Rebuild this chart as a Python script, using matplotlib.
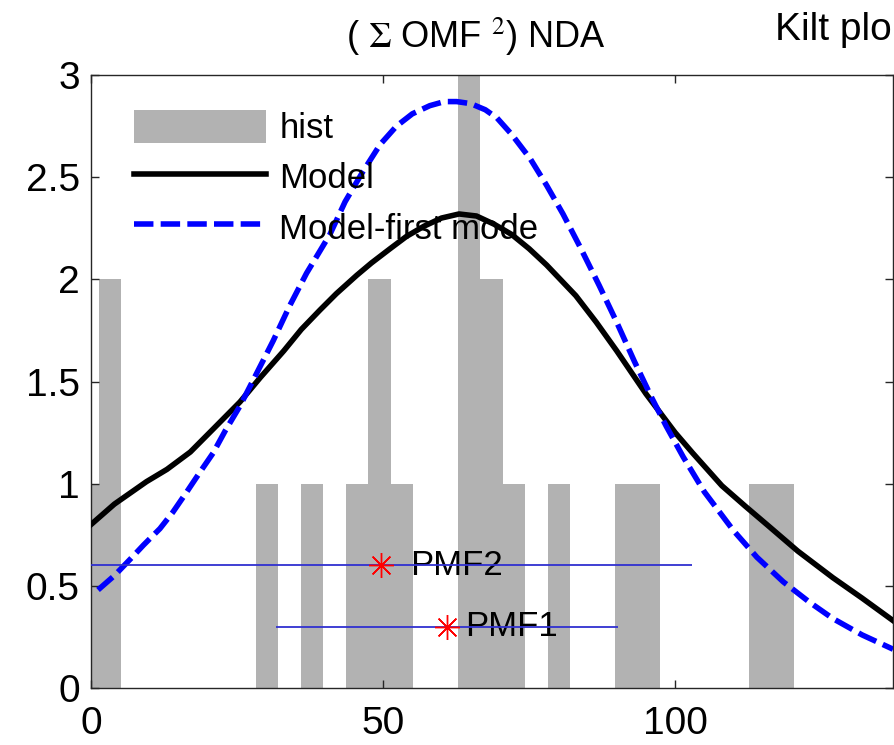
import matplotlib
matplotlib.use("Agg")
import matplotlib.pyplot as plt

plt.rcParams['font.family'] = ['Liberation Sans', 'DejaVu Sans']
plt.rcParams['mathtext.fontset'] = 'stix'

# histogram (bin centres and counts)
bin_width = 3.84
bin_centers = [-0.55, 3.29, 30.17, 37.85, 45.53, 49.37, 53.21, 64.73, 68.57,
               72.41, 80.09, 91.61, 95.45, 114.65, 118.49]
bin_counts = [1, 2, 1, 1, 1, 2, 1, 3, 2, 1, 1, 1, 1, 1, 1]

# Model curve
model_x = [0, 4, 9.5, 13, 17, 21, 25.5, 29, 33, 36, 39.2, 42, 45.5, 48, 51.2,
           54, 57, 60, 63, 66, 69, 72, 75, 78, 80, 83, 86.5, 90, 95, 100, 103,
           108, 112, 115.7, 121, 127, 132, 137.3]
model_y = [0.80, 0.90, 1.01, 1.07, 1.155, 1.27, 1.40, 1.52, 1.65, 1.755, 1.85,
           1.93, 2.02, 2.08, 2.15, 2.21, 2.26, 2.30, 2.32, 2.31, 2.27, 2.22,
           2.15, 2.07, 2.01, 1.92, 1.79, 1.65, 1.44, 1.25, 1.15, 0.99, 0.89,
           0.80, 0.67, 0.54, 0.44, 0.33]

# Model-first mode curve
first_x = [1.2, 4, 6.7, 9, 11.8, 14, 16.4, 18.5, 20.9, 23, 25.5, 28, 31.2, 34,
           36.9, 40.9, 43.5, 46.6, 49.5, 52.3, 55, 58, 60.5, 62.6, 65, 67.5,
           69.5, 72, 75.2, 78, 80.8, 83.7, 87, 90, 93, 96, 98.5, 101.4, 105,
           110, 114, 118.5, 123, 127, 132, 137.3]
first_y = [0.48, 0.55, 0.63, 0.70, 0.78, 0.86, 0.96, 1.05, 1.15, 1.26, 1.38,
           1.52, 1.70, 1.87, 2.03, 2.22, 2.38, 2.53, 2.66, 2.75, 2.81, 2.85,
           2.87, 2.87, 2.86, 2.83, 2.79, 2.71, 2.59, 2.46, 2.32, 2.16, 1.97,
           1.79, 1.60, 1.42, 1.28, 1.13, 0.96, 0.77, 0.64, 0.52, 0.42, 0.34,
           0.26, 0.19]

# PMF estimates with horizontal spread
pmf_names = ['PMF2', 'PMF1']
pmf_x = [49.6, 60.9]
pmf_y = [0.6, 0.3]
pmf_err = [53.3, 29.3]
pmf_text_x = [54.6, 64.0]

fig = plt.figure(figsize=(8.94, 7.45), dpi=100)
ax = fig.add_axes([0.1018, 0.0765, 0.8971, 0.8228])

h_hist = ax.bar(bin_centers, bin_counts, width=bin_width, color='#b2b2b2',
                linewidth=0, label='hist', zorder=1)
h_model, = ax.plot(model_x, model_y, color='black', lw=4, label='Model', zorder=3)
h_first, = ax.plot(first_x, first_y, color='#0000ff', lw=4, dashes=(3.5, 1.3),
                   label='Model-first mode', zorder=3)

for name, x, y, e, tx in zip(pmf_names, pmf_x, pmf_y, pmf_err, pmf_text_x):
    ax.text(tx, y, name, fontsize=25, va='center', ha='left', zorder=2)
    ax.errorbar([x], [y], xerr=[e], fmt='none', ecolor='#3030d0', elinewidth=1.3,
                capsize=0, zorder=4)
    ax.plot([x], [y], marker=(8, 2, 0), color='red', markersize=18,
            markeredgewidth=1, linestyle='none', zorder=5)

ax.set_xlim(0, 137.3)
ax.set_ylim(0, 3)
ax.set_xticks([0, 50, 100])
ax.set_yticks([0, 0.5, 1, 1.5, 2, 2.5, 3])
ax.set_yticklabels(['0', '0.5', '1', '1.5', '2', '2.5', '3'])
ax.tick_params(direction='in', top=True, right=True, length=6, width=1,
               labelsize=28, color='#262626', pad=8)
ax.tick_params(axis='x', pad=13)
for s in ax.spines.values():
    s.set_color('#262626')
    s.set_linewidth(1)

leg = ax.legend([h_hist, h_model, h_first], ['hist', 'Model', 'Model-first mode'],
                loc='upper left', bbox_to_anchor=(0.054, 0.943), frameon=False,
                fontsize=25, handlelength=3.78, handleheight=1.1,
                handletextpad=0.4, labelspacing=0.42, borderpad=0,
                borderaxespad=0)
leg.set_zorder(6)

fig.text(0.533, 0.950, r'( $\Sigma$ OMF $^{2}$) NDA', fontsize=26,
         ha='center', va='center')
# the neighbouring panel's title, as much of it as the reference shows
fig.text(0.998, 0.960, 'Kilt plo', fontsize=28, ha='right', va='center')

fig.savefig('out.png', dpi=100)
